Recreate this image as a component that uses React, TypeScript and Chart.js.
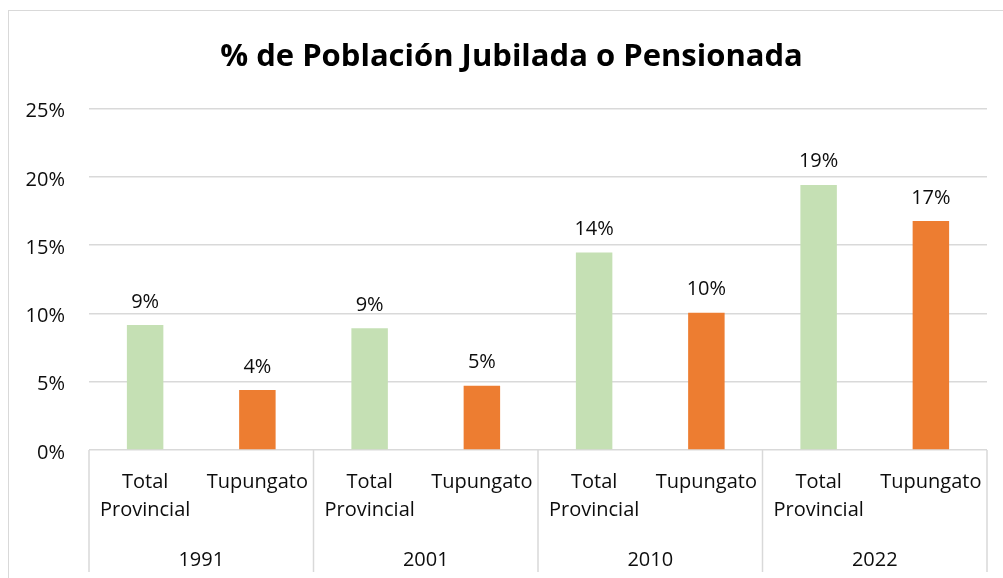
import React, { useEffect, useRef } from "react";
import { Chart, registerables } from "chart.js";

Chart.register(...registerables);

const chartTitle = "% de Población Jubilada o Pensionada";
const years = ["1991", "2001", "2010", "2022"];
const subCategories: string[][] = [["Total", "Provincial"], ["Tupungato"]];
const totalProvincial = [9.15, 8.91, 14.45, 19.4];
const tupungato = [4.39, 4.71, 10.05, 16.76];
const yMin = 0;
const yMax = 25;
const yStep = 5;

const GREEN = "#C5E0B4";
const ORANGE = "#ED7D31";
const GRID = "#D9D9D9";
const TEXT = "#0d0d0d";
const FONT = "'Open Sans', 'Noto Sans', sans-serif";

export default function App() {
  const canvasRef = useRef<HTMLCanvasElement | null>(null);

  useEffect(() => {
    let chart: Chart | null = null;
    let cancelled = false;

    const build = () => {
      if (cancelled || !canvasRef.current) return;
      const labels: string[][] = [];
      const values: number[] = [];
      const colors: string[] = [];
      years.forEach((_, i) => {
        labels.push(subCategories[0]);
        values.push(totalProvincial[i]);
        colors.push(GREEN);
        labels.push(subCategories[1]);
        values.push(tupungato[i]);
        colors.push(ORANGE);
      });

      const titlePlugin = {
        id: "customTitle",
        afterDraw(c: any) {
          const ctx = c.ctx;
          ctx.save();
          ctx.fillStyle = "#000";
          ctx.font = `bold 31px ${FONT}`;
          ctx.textAlign = "center";
          ctx.textBaseline = "alphabetic";
          ctx.fillText(chartTitle, 511.5, 66);
          ctx.restore();
        },
      };

      const groupPlugin = {
        id: "groupAxis",
        afterDraw(c: any) {
          const ctx = c.ctx;
          const xs = c.scales.x;
          const area = c.chartArea;
          const bottom = 572;
          ctx.save();
          ctx.strokeStyle = GRID;
          ctx.lineWidth = 1.5;
          const seps: number[] = [area.left];
          for (let g = 0; g < years.length - 1; g++) {
            seps.push((xs.getPixelForTick(2 * g + 1) + xs.getPixelForTick(2 * g + 2)) / 2);
          }
          seps.push(area.right);
          seps.forEach((sx) => {
            ctx.beginPath();
            ctx.moveTo(sx, area.bottom);
            ctx.lineTo(sx, bottom);
            ctx.stroke();
          });
          ctx.fillStyle = TEXT;
          ctx.font = `20px ${FONT}`;
          ctx.textAlign = "center";
          ctx.textBaseline = "alphabetic";
          years.forEach((y, g) => {
            const cx = (xs.getPixelForTick(2 * g) + xs.getPixelForTick(2 * g + 1)) / 2;
            ctx.fillText(y, cx, 565.5);
          });
          ctx.restore();
        },
      };

      const labelPlugin = {
        id: "barValues",
        afterDatasetsDraw(c: any) {
          const ctx = c.ctx;
          const meta = c.getDatasetMeta(0);
          ctx.save();
          ctx.fillStyle = TEXT;
          ctx.font = `20px ${FONT}`;
          ctx.textAlign = "center";
          ctx.textBaseline = "alphabetic";
          meta.data.forEach((el: any, i: number) => {
            const v = c.data.datasets[0].data[i] as number;
            ctx.fillText(`${Math.round(v)}%`, el.x, el.y - 17.5);
          });
          ctx.restore();
        },
      };

      chart = new Chart(canvasRef.current, {
        type: "bar",
        data: {
          labels,
          datasets: [
            {
              label: "%",
              data: values,
              backgroundColor: colors,
              borderWidth: 0,
              barPercentage: 0.325,
              categoryPercentage: 1,
            },
          ],
        },
        options: {
          responsive: false,
          animation: false,
          devicePixelRatio: 1,
          layout: { padding: { left: 0, right: 16, top: 108.5, bottom: 0 } },
          plugins: {
            legend: { display: false },
            tooltip: { enabled: false },
            title: { display: false },
          },
          scales: {
            x: {
              type: "category",
              offset: true,
              grid: { display: false, drawTicks: false },
              border: { display: false },
              ticks: {
                color: TEXT,
                font: { family: FONT, size: 20, lineHeight: 1.4 },
                padding: 18,
                maxRotation: 0,
                minRotation: 0,
                autoSkip: false,
              },
              afterFit(scale: any) {
                scale.height = 128;
              },
            },
            y: {
              min: yMin,
              max: yMax,
              grid: { color: GRID, lineWidth: 1.5, drawTicks: false, tickLength: 0 },
              border: { display: false },
              ticks: {
                stepSize: yStep,
                color: TEXT,
                font: { family: FONT, size: 20 },
                padding: 24,
                labelOffset: 3,
                callback: (v: any) => `${v}%`,
              },
              afterFit(scale: any) {
                scale.width = 89;
              },
            },
          },
        },
        plugins: [titlePlugin, groupPlugin, labelPlugin],
      });
    };

    const fontsReady = (document as any).fonts
      ? Promise.all([
          (document as any).fonts.load(`20px "Open Sans"`),
          (document as any).fonts.load(`bold 31px "Open Sans"`),
        ]).catch(() => null)
      : Promise.resolve(null);
    fontsReady.then(build);

    return () => {
      cancelled = true;
      if (chart) chart.destroy();
    };
  }, []);

  return (
    <>
      <div
        style={{
          position: "fixed",
          left: 8,
          top: 10,
          width: 1100,
          height: 700,
          border: `1px solid ${GRID}`,
          boxSizing: "border-box",
        }}
      />
      <canvas
        ref={canvasRef}
        width={1003}
        height={578}
        style={{ position: "fixed", left: 0, top: 0, width: 1003, height: 578 }}
      />
    </>
  );
}
